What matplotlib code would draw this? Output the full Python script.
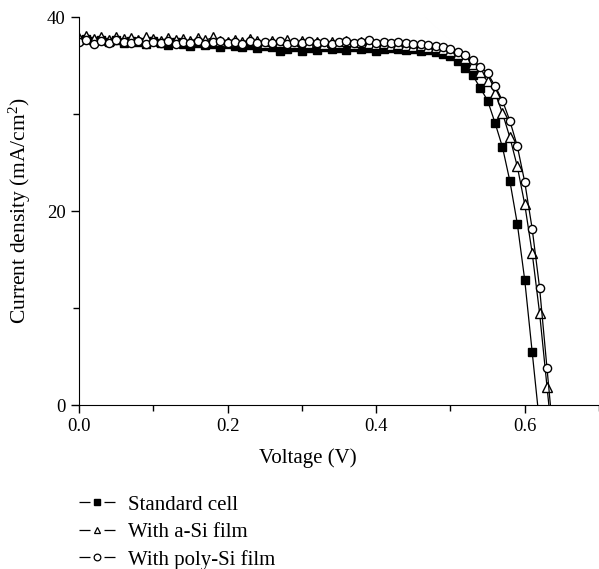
import numpy as np
import matplotlib
matplotlib.use('Agg')
import matplotlib.pyplot as plt
from matplotlib.ticker import MultipleLocator, FormatStrFormatter
from matplotlib.lines import Line2D

plt.rcParams['font.family'] = ['Liberation Serif', 'DejaVu Serif']
plt.rcParams['mathtext.default'] = 'regular'

# voltage grid (V) and current densities (mA/cm2)
voltage = [0.00, 0.01, 0.02, 0.03, 0.04, 0.05, 0.06, 0.07, 0.08, 0.09,
           0.10, 0.11, 0.12, 0.13, 0.14, 0.15, 0.16, 0.17, 0.18, 0.19,
           0.20, 0.21, 0.22, 0.23, 0.24, 0.25, 0.26, 0.27, 0.28, 0.29,
           0.30, 0.31, 0.32, 0.33, 0.34, 0.35, 0.36, 0.37, 0.38, 0.39,
           0.40, 0.41, 0.42, 0.43, 0.44, 0.45, 0.46, 0.47, 0.48, 0.49,
           0.50, 0.51, 0.52, 0.53, 0.54, 0.55, 0.56, 0.57, 0.58, 0.59,
           0.60, 0.61, 0.62, 0.63, 0.64]

j_standard = [37.6, 37.7, 37.5, 37.6, 37.4, 37.6, 37.3, 37.5, 37.4, 37.2,
              37.5, 37.3, 37.1, 37.4, 37.2, 37.0, 37.3, 37.1, 37.2, 36.9,
              37.2, 37.0, 36.9, 37.1, 36.8, 37.0, 36.9, 36.5, 36.7, 36.9,
              36.5, 36.8, 36.6, 36.9, 36.7, 36.8, 36.6, 36.9, 36.7, 36.8,
              36.5, 36.7, 36.8, 36.7, 36.6, 36.7, 36.5, 36.6, 36.4, 36.2,
              36.0, 35.5, 34.8, 34.0, 32.7, 31.4, 29.1, 26.6, 23.1, 18.7,
              12.9, 5.5, -1.9]

j_asi = [37.8, 38.0, 37.7, 37.9, 37.6, 37.9, 37.7, 37.8, 37.6, 37.9,
         37.7, 37.5, 37.8, 37.6, 37.7, 37.5, 37.8, 37.6, 37.9, 37.5,
         37.4, 37.6, 37.4, 37.7, 37.5, 37.3, 37.5, 37.4, 37.6, 37.3,
         37.5, 37.3, 37.4, 37.2, 37.4, 37.3, 37.5, 37.2, 37.4, 37.3,
         37.2, 37.3, 37.1, 37.2, 37.1, 37.0, 37.1, 36.9, 36.9, 36.7,
         36.5, 36.2, 35.8, 35.2, 34.3, 33.4, 32.2, 30.1, 27.6, 24.6,
         20.7, 15.7, 9.5, 1.9, -5.7]

j_poly = [37.4, 37.6, 37.2, 37.5, 37.3, 37.6, 37.4, 37.3, 37.5, 37.2,
          37.4, 37.3, 37.5, 37.2, 37.4, 37.3, 37.5, 37.2, 37.4, 37.5,
          37.3, 37.4, 37.2, 37.5, 37.3, 37.4, 37.3, 37.5, 37.2, 37.4,
          37.3, 37.5, 37.3, 37.4, 37.2, 37.4, 37.5, 37.3, 37.4, 37.6,
          37.3, 37.4, 37.3, 37.4, 37.3, 37.2, 37.2, 37.1, 37.0, 36.9,
          36.7, 36.4, 36.1, 35.6, 34.9, 34.2, 32.9, 31.4, 29.3, 26.7,
          23.0, 18.2, 12.1, 3.8, -4.5]

labels = ['Standard cell', 'With a-Si film', 'With poly-Si film']

fig = plt.figure(figsize=(5.99, 5.69), dpi=100)
ax = fig.add_axes([0.132, 0.288, 0.868, 0.682])

ax.plot(voltage[:len(j_standard)], j_standard, '-', color='black', lw=0.9,
        marker='s', ms=5.3, mfc='black', mec='black')
ax.plot(voltage, j_asi, '-', color='black', lw=0.9,
        marker='^', ms=6.5, mfc='white', mec='black', mew=1.0)
ax.plot(voltage, j_poly, '-', color='black', lw=0.9,
        marker='o', ms=5.9, mfc='white', mec='black', mew=1.0)

ax.set_xlim(0, 0.7)
ax.set_ylim(0, 40)
ax.xaxis.set_major_locator(MultipleLocator(0.2))
ax.xaxis.set_minor_locator(MultipleLocator(0.1))
ax.yaxis.set_major_locator(MultipleLocator(20))
ax.yaxis.set_minor_locator(MultipleLocator(10))
ax.xaxis.set_major_formatter(FormatStrFormatter('%.1f'))
ax.spines['top'].set_visible(False)
ax.spines['right'].set_visible(False)
ax.tick_params(which='major', direction='out', length=6, width=1, labelsize=13.5)
ax.tick_params(which='minor', direction='out', length=4, width=1)

ax.set_xlabel('Voltage (V)', fontsize=15)
ax.xaxis.set_label_coords(0.44, -0.11)
ax.set_ylabel('Current density (mA/cm$^2$)', fontsize=15.5)
ax.yaxis.set_label_coords(-0.088, 0.5)

# legend handles: short dash, marker, short dash
handles = [
    Line2D([], [], color='black', lw=0.9, dashes=(8.8, 11.2),
           marker='s', ms=4.5, mfc='black', mec='black'),
    Line2D([], [], color='black', lw=0.9, dashes=(8.8, 11.2),
           marker='^', ms=5.0, mfc='white', mec='black', mew=0.9),
    Line2D([], [], color='black', lw=0.9, dashes=(8.8, 11.2),
           marker='o', ms=4.8, mfc='white', mec='black', mew=0.9),
]
fig.legend(handles, labels, loc='upper left', bbox_to_anchor=(0.1214, 0.141),
           frameon=False, fontsize=15, handlelength=1.75, handletextpad=0.6,
           labelspacing=0.37, borderaxespad=0, borderpad=0.3, numpoints=1)

fig.savefig('out.png', dpi=100)
